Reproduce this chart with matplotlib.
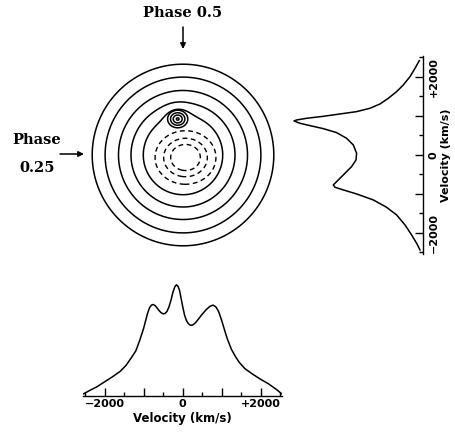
import numpy as np
import matplotlib
matplotlib.use("Agg")
import matplotlib.pyplot as plt

# line profile below the map (velocity km/s, relative flux)
vel_bot = [-2540, -2400, -2200, -2000, -1800, -1600, -1450, -1300, -1200, -1100,
           -1000, -950, -900, -850, -800, -750, -700, -650, -600, -550,
           -500, -450, -400, -350, -300, -250, -200, -160, -120, -80,
           -40, 0, 50, 100, 150, 200, 250, 300, 350, 400,
           500, 600, 700, 780, 850, 920, 1000, 1050, 1100, 1150,
           1250, 1350, 1450, 1600, 1800, 2000, 2200, 2400, 2540]
flux_bot = [2.5, 5.5, 9.5, 14.5, 19.5, 25, 31, 39.5, 45.5, 56,
            68, 75.5, 83, 88.5, 91.2, 91.8, 90.5, 88, 85.5, 83.5,
            82.5, 82.8, 85, 89.5, 96, 104, 109.5, 111.5, 110, 106,
            98, 90, 81, 75.5, 72.5, 71, 71.2, 72.5, 74.5, 77,
            82, 86.5, 90, 91.2, 89.5, 85, 76, 69.5, 63, 57,
            47, 40, 34, 27.5, 22, 17, 12.5, 7, 2.5]

# line profile at the side of the map
vel_side = [2419, 2222, 2009, 1795, 1624, 1453, 1308, 1197, 1111, 1051,
            991, 940, 897, 872, 812, 752, 675, 573, 427, 256,
            43, -128, -299, -470, -641, -769, -829, -897, -1000, -1154,
            -1342, -1538, -1795, -2051, -2265, -2436]
flux_side = [4, 8.3, 13.3, 20, 26.7, 35, 43.3, 53.3, 66.7, 83.3,
             100, 116.7, 126.7, 129.3, 123.3, 113.3, 100, 86.7, 76.7, 70,
             66.7, 67.3, 71.7, 78.3, 85, 90, 88.3, 80, 66.7, 50,
             36.7, 26.7, 18.3, 11.7, 6.7, 3.3]

# Doppler map contours (km/s)
ring_levels = [1018, 1333, 1654, 1997, 2328]
dash_levels = [380, 560, 780]
dash_center = (64, -64)
spot_levels = [30, 100, 160, 225]
spot_pos = (-136, 923)
bump_amp = 350
bump_width = 200

ticks_major = [-2000, -1000, 0, 1000, 2000]
tick_labels = ['\u22122000', '', '0', '', '+2000']
ticks_minor = [-2500, -1500, -500, 500, 1500, 2500]

W, H = 455, 433
plt.rcParams['lines.dashed_pattern'] = [3.5, 2.5]


def px_rect(left, top, w, h):
    return [left / W, 1 - (top + h) / H, w / W, h / H]


def fig_xy(x, y):
    return (x / W, 1 - y / H)


fig = plt.figure(figsize=(W / 100, H / 100), dpi=100)

# map
ax = fig.add_axes(px_rect(183 - 97.5, 155 - 97.5, 195, 195))
v = np.linspace(-2500, 2500, 501)
VX, VY = np.meshgrid(v, v)
R = np.hypot(VX, VY)
D = np.hypot(VX - spot_pos[0], VY - spot_pos[1])
solid = R - bump_amp * np.exp(-D ** 2 / (2 * bump_width ** 2))
ax.contour(VX, VY, solid, levels=ring_levels, colors='black', linewidths=1.1)
dfield = np.hypot(VX - dash_center[0], (VY - dash_center[1]) / 0.88)
ax.contour(VX, VY, dfield, levels=dash_levels, colors='black', linewidths=1.0,
           linestyles='dashed')
sfield = np.hypot((VX - spot_pos[0]) / 1.15, VY - spot_pos[1])
ax.contour(VX, VY, sfield, levels=spot_levels, colors='black', linewidths=1.1)
ax.set_xlim(-2500, 2500)
ax.set_ylim(-2500, 2500)
ax.axis('off')

# bottom profile
axb = fig.add_axes(px_rect(83.4, 276.3, 198.5, 120))
axb.plot(vel_bot, flux_bot, color='black', lw=1.1)
axb.set_xlim(-2545, 2545)
axb.set_ylim(0, 120)
for s in ['top', 'left', 'right']:
    axb.spines[s].set_visible(False)
axb.spines['bottom'].set_linewidth(1.0)
axb.set_yticks([])
axb.set_xticks(ticks_major, tick_labels)
axb.set_xticks(ticks_minor, minor=True)
axb.tick_params(axis='x', which='major', direction='in', length=5.5, width=1.0, pad=2, labelsize=8)
axb.tick_params(axis='x', which='minor', direction='in', length=3, width=1.0)
for lbl in axb.get_xticklabels():
    lbl.set_fontweight('bold')
axb.set_xlabel('Velocity (km/s)', fontsize=8.5, fontweight='bold', labelpad=2)

# side profile
axs = fig.add_axes(px_rect(283.3, 56.3, 140, 197.3))
axs.plot(flux_side, vel_side, color='black', lw=1.1)
axs.set_xlim(140, 0)
axs.set_ylim(-2530, 2530)
for s in ['top', 'left', 'bottom']:
    axs.spines[s].set_visible(False)
axs.spines['right'].set_linewidth(1.0)
axs.set_xticks([])
axs.yaxis.tick_right()
axs.set_yticks(ticks_major, tick_labels)
axs.set_yticks(ticks_minor, minor=True)
axs.tick_params(axis='y', which='major', direction='in', length=5.5, width=1.0, pad=4, labelsize=8)
axs.tick_params(axis='y', which='minor', direction='in', length=3, width=1.0)
for lbl in axs.get_yticklabels():
    lbl.set_fontweight('bold')
    lbl.set_rotation(90)
    lbl.set_va('center')
    lbl.set_ha('left')
axs.yaxis.set_label_position('right')
axs.set_ylabel('Velocity (km/s)', fontsize=8, fontweight='bold', rotation=90, labelpad=1.5)

# phase markers
fig.text(*fig_xy(183, 13), 'Phase 0.5', family='DejaVu Serif', fontsize=10.5,
         fontweight='bold', ha='center', va='center')
fig.text(*fig_xy(37, 140), 'Phase', family='DejaVu Serif', fontsize=10.5,
         fontweight='bold', ha='center', va='center')
fig.text(*fig_xy(37, 168), '0.25', family='DejaVu Serif', fontsize=10.5,
         fontweight='bold', ha='center', va='center')
ax.annotate('', xy=fig_xy(183, 49), xytext=fig_xy(183, 27), xycoords='figure fraction',
            arrowprops=dict(arrowstyle='-|>', color='black', lw=1.1, mutation_scale=8,
                            shrinkA=0, shrinkB=0))
ax.annotate('', xy=fig_xy(84, 154), xytext=fig_xy(60, 154), xycoords='figure fraction',
            arrowprops=dict(arrowstyle='-|>', color='black', lw=1.1, mutation_scale=8,
                            shrinkA=0, shrinkB=0))

fig.savefig('out.png', dpi=100)
